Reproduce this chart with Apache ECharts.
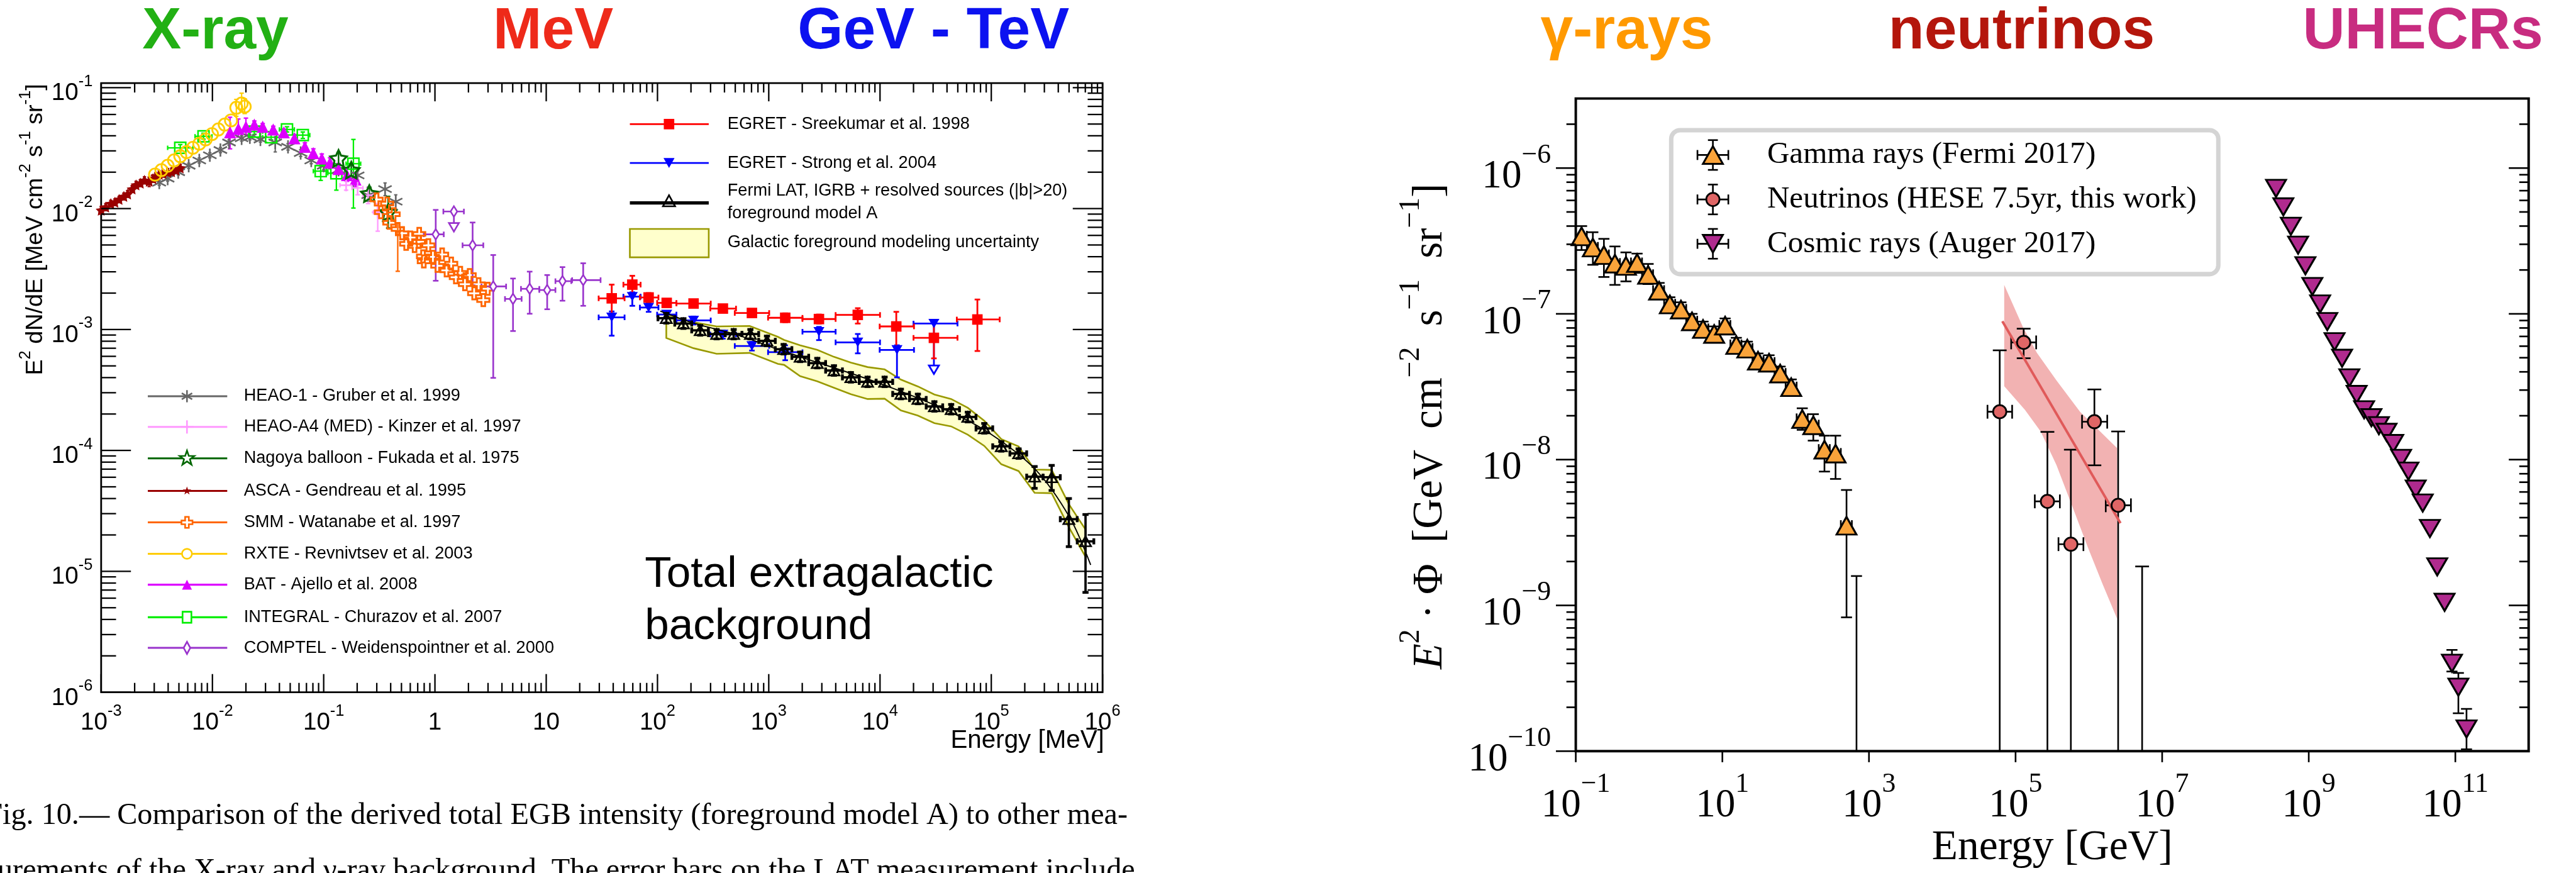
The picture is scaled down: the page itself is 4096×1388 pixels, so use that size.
<!DOCTYPE html>
<html>
<head>
<meta charset="utf-8">
<title>Extragalactic background and multi-messenger spectra</title>
<script src="https://cdn.jsdelivr.net/npm/echarts@6.0.0/dist/echarts.min.js"></script>
<style>
html,body{margin:0;padding:0;background:#ffffff;}
#chart{width:4096px;height:1388px;}
</style>
</head>
<body>
<div id="chart"></div>
<script>
// ================= LEFT PANEL DATA =================
// Energy [MeV], E^2 dN/dE [MeV cm^-2 s^-1 sr^-1]
// [E, value, lowErr, highErr]
const ascaPts = [
  [1.0e-3,9.7e-3,9.0e-3,1.04e-2],[1.1e-3,1.03e-2,9.6e-3,1.1e-2],[1.22e-3,1.10e-2,1.03e-2,1.17e-2],
  [1.33e-3,1.13e-2,1.06e-2,1.2e-2],[1.45e-3,1.19e-2,1.12e-2,1.26e-2],[1.6e-3,1.26e-2,1.18e-2,1.34e-2],
  [1.73e-3,1.32e-2,1.24e-2,1.41e-2],[1.9e-3,1.45e-2,1.36e-2,1.55e-2],[2.06e-3,1.57e-2,1.47e-2,1.68e-2],
  [2.25e-3,1.62e-2,1.52e-2,1.73e-2],[2.45e-3,1.71e-2,1.6e-2,1.83e-2],[2.7e-3,1.68e-2,1.52e-2,1.82e-2],
  [2.92e-3,1.77e-2,1.65e-2,1.9e-2],[3.1e-3,1.85e-2,1.73e-2,1.98e-2],[3.33e-3,1.92e-2,1.8e-2,2.05e-2],
  [3.6e-3,1.95e-2,1.82e-2,2.08e-2],[3.96e-3,2.0e-2,1.87e-2,2.14e-2],[4.3e-3,2.02e-2,1.88e-2,2.16e-2],
  [4.72e-3,2.08e-2,1.95e-2,2.22e-2],[5.14e-3,2.17e-2,2.03e-2,2.32e-2]
];
const heao1Pts = [
  [3.33e-3,1.64e-2,1.56e-2,1.72e-2],[3.96e-3,1.77e-2,1.69e-2,1.86e-2],[4.93e-3,2.0e-2,1.9e-2,2.1e-2],
  [6.12e-3,2.26e-2,2.15e-2,2.37e-2],[7.62e-3,2.5e-2,2.38e-2,2.62e-2],[9.48e-3,2.76e-2,2.63e-2,2.9e-2],
  [1.18e-2,3.05e-2,2.9e-2,3.2e-2],[1.41e-2,3.52e-2,3.35e-2,3.7e-2],[1.83e-2,3.81e-2,3.62e-2,4.0e-2],
  [2.17e-2,3.89e-2,3.7e-2,4.08e-2],[2.7e-2,3.73e-2,3.55e-2,3.92e-2],[3.67e-2,3.52e-2,2.94e-2,3.9e-2],
  [4.78e-2,3.24e-2,3.05e-2,3.44e-2],[6.21e-2,2.88e-2,2.7e-2,3.06e-2],[7.73e-2,2.5e-2,2.35e-2,2.66e-2],
  [0.100,2.26e-2,2.1e-2,2.42e-2],[0.136,2.09e-2,1.93e-2,2.26e-2],[0.202,1.88e-2,1.72e-2,2.05e-2],
  [0.251,1.29e-2,1.15e-2,1.44e-2],[0.356,1.45e-2,1.28e-2,1.63e-2],[0.444,1.14e-2,0.99e-2,1.3e-2]
];
const rxtePts = [
  [3.05e-3,1.91e-2,null,null],[3.48e-3,2.08e-2,null,null],[3.96e-3,2.26e-2,null,null],[4.52e-3,2.5e-2,null,null],
  [5.14e-3,2.71e-2,null,null],[5.86e-3,2.93e-2,null,null],[6.68e-3,3.18e-2,null,null],[7.62e-3,3.44e-2,null,null],
  [8.69e-3,3.73e-2,null,null],[9.91e-3,4.13e-2,null,null],[1.13e-2,4.51e-2,null,null],[1.29e-2,4.95e-2,null,null],
  [1.47e-2,5.36e-2,null,null],[1.64e-2,6.82e-2,5.8e-2,8.0e-2],[1.83e-2,7.39e-2,6.4e-2,9.0e-2],[1.95e-2,6.97e-2,6.1e-2,8.1e-2]
];
// [E, value, Elow, Ehigh, lowErr, highErr]
const integralPts = [
  [5.14e-3,3.18e-2,3.96e-3,6.68e-3,3.0e-2,3.38e-2],[8.32e-3,3.96e-2,6.98e-3,9.91e-3,3.75e-2,4.2e-2],
  [2.38e-2,4.33e-2,2.0e-2,2.83e-2,4.1e-2,4.55e-2],[3.37e-2,3.89e-2,2.83e-2,4.0e-2,3.7e-2,4.1e-2],
  [4.68e-2,4.51e-2,4.0e-2,5.45e-2,4.3e-2,4.75e-2],[6.49e-2,4.05e-2,5.45e-2,7.5e-2,3.8e-2,4.3e-2],
  [9.4e-2,2.04e-2,8.07e-2,0.109,1.71e-2,2.26e-2],[0.130,1.96e-2,0.109,0.154,1.42e-2,2.35e-2],
  [0.185,2.35e-2,0.159,0.215,1.01e-2,3.73e-2]
];
const batPts = [
  [1.44e-2,4.27e-2,3.12e-2,5.69e-2],[1.71e-2,4.57e-2,3.9e-2,5.5e-2],[2.0e-2,4.75e-2,4.1e-2,5.6e-2],
  [2.38e-2,4.95e-2,4.6e-2,5.3e-2],[2.83e-2,4.75e-2,4.45e-2,5.05e-2],[3.52e-2,4.51e-2,4.25e-2,4.8e-2],
  [4.38e-2,4.27e-2,4.0e-2,4.55e-2],[5.45e-2,3.81e-2,3.55e-2,4.1e-2],[6.78e-2,3.24e-2,3.0e-2,3.5e-2],
  [8.07e-2,2.88e-2,2.65e-2,3.12e-2],[9.62e-2,2.6e-2,2.38e-2,2.83e-2],[0.114,2.4e-2,2.18e-2,2.63e-2],
  [0.136,2.13e-2,1.92e-2,2.36e-2],[0.162,1.89e-2,1.68e-2,2.12e-2],[0.193,1.74e-2,1.52e-2,1.98e-2]
];
const heaoA4Pts = [
  [0.159,1.56e-2,0.14,0.18,1.42e-2,1.7e-2],[0.202,1.48e-2,0.18,0.225,1.3e-2,1.66e-2],
  [0.251,1.29e-2,0.225,0.28,1.1e-2,1.5e-2],[0.306,9.33e-3,0.28,0.335,6.5e-3,1.10e-2]
];
const nagoyaPts = [
  [0.136,2.6e-2,2.3e-2,2.9e-2],[0.177,2.08e-2,1.85e-2,2.3e-2],[0.257,1.33e-2,1.2e-2,1.5e-2],[0.380,9.33e-3,6.9e-3,1.26e-2]
];
const smmPts = [
  [0.299,1.19e-2,null,null],[0.327,9.33e-3,null,null],[0.372,1.10e-2,null,null],[0.389,7.64e-3,null,null],
  [0.425,8.97e-3,null,null],[0.463,6.77e-3,3.03e-3,7.6e-3],[0.506,6.25e-3,null,null],[0.551,5.11e-3,null,null],
  [0.601,5.76e-3,null,null],[0.656,4.91e-3,null,null],[0.716,5.32e-3,null,null],[0.781,4.02e-3,null,null],
  [0.722,6.17e-3,null,null],[0.794,3.66e-3,null,null],[0.873,4.97e-3,null,null],[0.959,3.99e-3,null,null],
  [1.05,3.36e-3,null,null],[1.16,4.17e-3,null,null],[1.27,3.08e-3,null,null],[1.40,3.51e-3,null,null],
  [1.54,2.70e-3,null,null],[1.69,2.94e-3,null,null],[1.86,2.37e-3,null,null],[2.05,2.82e-3,null,null],
  [2.25,1.99e-3,null,null],[2.47,2.37e-3,null,null],[2.72,1.75e-3,null,null],[2.99,2.17e-3,null,null]
];
// [E, value, Elow, Ehigh, lowErr, highErr, upperLimit]
const comptelPts = [
  [1.016,6.12e-3,0.794,1.20,2.53e-3,9.75e-3,0],[1.48,9.46e-3,1.19,1.82,6.46e-3,null,1],
  [2.18,4.97e-3,1.77,2.72,2.32e-3,7.67e-3,0],[3.34,2.27e-3,2.62,4.36,3.98e-4,4.13e-3,0],
  [5.03,1.79e-3,4.26,6.01,9.71e-4,2.64e-3,0],[7.10,2.17e-3,5.93,8.67,1.35e-3,3.01e-3,0],
  [10.2,2.12e-3,8.67,12.1,1.47e-3,2.82e-3,0],[14.0,2.51e-3,12.1,16.8,1.73e-3,3.28e-3,0],
  [21.5,2.56e-3,17.1,30.8,1.57e-3,3.53e-3,0]
];
const egretSreekumarPts = [
  [38.8,1.81e-3,29.6,50.6,1.29e-3,2.35e-3,0],[59.4,2.35e-3,49.4,70.5,1.99e-3,2.78e-3,0],
  [83.2,1.84e-3,69.5,102,1.68e-3,2.0e-3,0],[121,1.66e-3,99.3,148,1.54e-3,1.78e-3,0],
  [211,1.64e-3,148,301,1.53e-3,1.75e-3,0],[387,1.49e-3,298,508,1.39e-3,1.6e-3,0],
  [706,1.37e-3,495,1009,1.27e-3,1.47e-3,0],[1406,1.25e-3,986,2009,1.15e-3,1.36e-3,0],
  [2825,1.22e-3,2009,3990,1.12e-3,1.33e-3,0],[6310,1.32e-3,3990,1.0e4,1.12e-3,1.50e-3,0],
  [1.40e4,1.06e-3,9930,2.02e4,7.23e-4,1.40e-3,0],[3.05e4,8.53e-4,2.0e4,4.97e4,5.77e-4,1.17e-3,0],
  [7.50e4,1.21e-3,4.90e4,1.19e5,6.64e-4,1.77e-3,0]
];
const egretStrongPts = [
  [38.8,1.26e-3,29.6,50.6,8.89e-4,1.41e-3,0],[59.4,1.87e-3,49.4,70.5,1.57e-3,2.03e-3,0],
  [83.2,1.52e-3,69.5,102,1.4e-3,1.64e-3,0],[121,1.33e-3,99.3,148,1.24e-3,1.42e-3,0],
  [211,1.19e-3,148,301,1.1e-3,1.28e-3,0],[387,9.1e-4,298,508,8.4e-4,9.8e-4,0],
  [706,7.31e-4,495,1009,6.7e-4,7.9e-4,0],[1406,6.49e-4,986,2009,5.57e-4,7.4e-4,0],
  [2825,9.59e-4,2009,3990,8.17e-4,1.05e-3,0],[6310,7.83e-4,3990,1.0e4,6.35e-4,9.18e-4,0],
  [1.42e4,6.78e-4,9930,2.02e4,4.02e-4,7.4e-4,0],[3.05e4,1.12e-3,2.0e4,4.97e4,4.29e-4,null,1]
];
// Fermi LAT total EGB, foreground model A: [E, value, lowErr, highErr]
const fermiPts = [
  [120,1.24e-3,1.13e-3,1.36e-3],[171,1.12e-3,1.02e-3,1.23e-3],[242,9.84e-4,8.97e-4,1.08e-3],
  [340,9.17e-4,8.36e-4,1.0e-3],[484,9.17e-4,8.36e-4,1.0e-3],[684,9.17e-4,8.36e-4,1.0e-3],
  [964,8.05e-4,7.34e-4,8.82e-4],[1361,6.87e-4,6.27e-4,7.53e-4],[1914,5.94e-4,5.42e-4,6.51e-4],
  [2730,5.27e-4,4.81e-4,5.78e-4],[3855,4.58e-4,4.18e-4,5.02e-4],[5470,4.02e-4,3.67e-4,4.41e-4],
  [7730,3.69e-4,3.37e-4,4.04e-4],[1.10e4,3.69e-4,3.37e-4,4.04e-4],[1.54e4,2.93e-4,2.67e-4,3.21e-4],
  [2.19e4,2.66e-4,2.43e-4,2.92e-4],[3.08e4,2.31e-4,2.11e-4,2.53e-4],[4.36e4,2.19e-4,2.0e-4,2.4e-4],
  [6.15e4,1.89e-4,1.72e-4,2.07e-4],[8.65e4,1.52e-4,1.39e-4,1.67e-4],[1.23e5,1.08e-4,9.85e-5,1.18e-4],
  [1.76e5,9.44e-5,8.6e-5,1.03e-4],[2.45e5,6.06e-5,4.86e-5,7.36e-5],[3.49e5,6.0e-5,4.67e-5,7.52e-5],
  [4.98e5,2.70e-5,1.60e-5,4.0e-5],[7.03e5,1.77e-5,6.7e-6,2.95e-5]
];
const fermiBinEdges = [101,143,203,287,406,575,812,1145,1614,2286,3244,4592,6503,9220,1.30e4,1.84e4,2.6e4,
  3.66e4,5.18e4,7.29e4,1.03e5,1.47e5,2.08e5,2.92e5,4.17e5,5.92e5,8.35e5];
const fermiModel = [[106,1.42e-3],[211,1.13e-3],[545,8.9e-4],[1208,6.85e-4],[2208,5.70e-4],[9120,3.69e-4],
  [3.78e4,2.19e-4],[9.73e4,1.38e-4],[2.51e5,6.90e-5],[5.09e5,2.77e-5],[7.82e5,1.13e-5]];
// Galactic foreground modelling uncertainty band: [E, lower, upper]
const fermiBand = [
  [120,8.5e-4,1.30e-3],[211,7.0e-4,1.15e-3],[340,6.3e-4,1.06e-3],[674,6.4e-4,1.07e-3],[1208,5.2e-4,8.7e-4],
  [1374,5.1e-4,8.2e-4],[1914,4.11e-4,7.40e-4],[2730,3.73e-4,6.78e-4],[3855,3.30e-4,5.94e-4],[5470,2.92e-4,5.33e-4],
  [7730,2.66e-4,4.89e-4],[1.10e4,2.68e-4,4.68e-4],[1.54e4,2.14e-4,3.85e-4],[2.19e4,1.94e-4,3.38e-4],
  [3.08e4,1.68e-4,2.90e-4],[4.36e4,1.58e-4,2.66e-4],[6.15e4,1.35e-4,2.25e-4],[8.65e4,1.09e-4,1.76e-4],
  [1.23e5,7.69e-5,1.24e-4],[1.76e5,6.75e-5,1.08e-4],[2.45e5,4.46e-5,6.95e-5],[3.49e5,4.43e-5,6.90e-5],
  [4.98e5,2.32e-5,3.59e-5],[7.03e5,1.32e-5,2.22e-5]
];

// ================= RIGHT PANEL DATA =================
// Energy [GeV], E^2 Phi [GeV cm^-2 s^-1 sr^-1]
// Gamma rays (Fermi 2017): [E, value, lowErr, highErr]  (value null: only upper error drawn)
const gammaPts = [
  [0.120,3.40e-7,2.74e-7,4.0e-7],[0.171,2.85e-7,2.17e-7,3.63e-7],[0.242,2.53e-7,1.79e-7,3.27e-7],
  [0.342,2.21e-7,1.58e-7,2.9e-7],[0.484,2.13e-7,1.67e-7,2.64e-7],[0.686,2.23e-7,1.91e-7,2.59e-7],
  [0.971,1.85e-7,1.6e-7,2.2e-7],[1.37,1.44e-7,1.27e-7,1.63e-7],[1.92,1.16e-7,1.03e-7,1.3e-7],
  [2.72,1.07e-7,9.5e-8,1.2e-7],[3.85,8.88e-8,7.9e-8,1.0e-7],[5.45,7.87e-8,7.0e-8,8.85e-8],
  [7.73,7.28e-8,6.45e-8,8.2e-8],[10.9,8.30e-8,7.4e-8,9.3e-8],[15.5,6.11e-8,5.45e-8,6.85e-8],
  [21.9,5.77e-8,5.15e-8,6.45e-8],[30.6,4.77e-8,4.25e-8,5.35e-8],[43.3,4.62e-8,4.1e-8,5.2e-8],
  [61.4,3.89e-8,3.45e-8,4.35e-8],[86.9,3.14e-8,2.8e-8,3.55e-8],[123,1.90e-8,1.60e-8,2.25e-8],
  [174,1.72e-8,1.35e-8,2.05e-8],[247,1.17e-8,8.28e-9,1.46e-8],[350,1.10e-8,7.37e-9,1.46e-8],
  [494,3.52e-9,8.28e-10,6.19e-9],[676,null,0,1.59e-9]
];
const gammaBinEdges = [0.100,0.1415,0.2001,0.2831,0.4005,0.5666,0.8016,1.134,1.604,2.270,3.211,4.543,6.427,
  9.092,12.86,18.20,25.75,36.42,51.53,72.90,103.1,145.9,206.4,292.0,413.1,584.4,826.8];
// Neutrinos (HESE 7.5yr): [E, value, Elow, Ehigh, lowErr(0 = down to axis), highErr]
const nuPts = [
  [6.08e4,2.13e-8,4.14e4,8.98e4,0,5.62e-8],[1.29e5,6.37e-8,8.71e4,1.91e5,4.96e-8,7.91e-8],
  [2.72e5,5.17e-9,1.83e5,4.02e5,0,1.55e-8],[5.68e5,2.63e-9,3.85e5,8.43e5,0,1.17e-8],
  [1.19e6,1.82e-8,8.07e5,1.78e6,9.14e-9,3.03e-8],[2.51e6,4.86e-9,1.70e6,3.75e6,0,1.56e-8],
  [5.33e6,null,null,null,0,1.85e-9]
];
const nuFit = [[6.6e4,8.9e-8],[2.7e6,3.67e-9]];
const nuBandUpper = [[7.0e4,1.58e-7],[1.26e5,8.11e-8],[1.95e5,5.42e-8],[3.61e5,3.50e-8],[7.59e5,2.13e-8],[2.43e6,1.20e-8]];
const nuBandLower = [[7.0e4,3.19e-8],[1.34e5,2.20e-8],[2.20e5,1.56e-8],[3.61e5,9.18e-9],[5.93e5,4.79e-9],
  [9.73e5,2.49e-9],[1.55e6,1.39e-9],[2.43e6,8.09e-10]];
// Cosmic rays (Auger 2017): [E, value, lowErr, highErr]
const crPts = [
  [3.58e8,7.26e-7,null,null],[4.50e8,5.42e-7,null,null],[5.70e8,3.99e-7,null,null],[7.16e8,2.96e-7,null,null],
  [9.00e8,2.14e-7,null,null],[1.12e9,1.54e-7,null,null],[1.43e9,1.17e-7,null,null],[1.79e9,8.85e-8,null,null],
  [2.25e9,6.44e-8,null,null],[2.85e9,4.96e-8,null,null],[3.58e9,3.64e-8,null,null],[4.50e9,2.80e-8,null,null],
  [5.69e9,2.20e-8,null,null],[7.16e9,1.94e-8,null,null],[9.06e9,1.71e-8,null,null],[1.15e10,1.54e-8,null,null],
  [1.42e10,1.29e-8,null,null],[1.82e10,1.02e-8,null,null],[2.29e10,8.34e-9,null,null],[2.88e10,6.28e-9,null,null],
  [3.59e10,5.04e-9,null,null],[4.50e10,3.37e-9,null,null],[5.66e10,1.84e-9,null,null],[7.13e10,1.05e-9,null,null],
  [8.99e10,4.01e-10,3.52e-10,4.95e-10],[1.10e11,2.75e-10,1.82e-10,3.44e-10],[1.42e11,1.42e-10,1.03e-10,1.95e-10]
];

// ================= AXES: tick values & labels =================
const minorMult = [2,3,4,5,6,7,8,9];
const leftXDecades = [-3,-2,-1,0,1,2,3,4,5,6];
const leftYDecades = [-6,-5,-4,-3,-2,-1];
const rightXMajor = [-1,1,3,5,7,9,11];
const rightYDecades = [-10,-9,-8,-7,-6];
const leftXLabels = [[1e-3,'10','-3'],[1e-2,'10','-2'],[1e-1,'10','-1'],[1,'1',''],[10,'10',''],[1e2,'10','2'],
  [1e3,'10','3'],[1e4,'10','4'],[1e5,'10','5'],[1e6,'10','6']];
const leftYLabels = [[1e-6,'10','-6'],[1e-5,'10','-5'],[1e-4,'10','-4'],[1e-3,'10','-3'],[1e-2,'10','-2'],[1e-1,'10','-1']];
const rightXLabels = [[1e-1,'10','\u22121'],[1e1,'10','1'],[1e3,'10','3'],[1e5,'10','5'],[1e7,'10','7'],[1e9,'10','9'],[1e11,'10','11']];
const rightYLabels = [[1e-10,'10','\u221210'],[1e-9,'10','\u22129'],[1e-8,'10','\u22128'],[1e-7,'10','\u22127'],[1e-6,'10','\u22126']];

const titles = [['X-ray',258,'#22b014'],['MeV',894,'#ee2a1a'],['GeV - TeV',1446,'#0c12f0'],
  ['\u03b3-rays',2793,'#ff9900'],['neutrinos',3424,'#b4160c'],['UHECRs',4175,'#c82c80']];
const legendTopTexts = ['EGRET - Sreekumar et al. 1998','EGRET - Strong et al. 2004',
  'Fermi LAT, IGRB + resolved sources (|b|>20)','foreground model A','Galactic foreground modeling uncertainty'];
const legendBottomTexts = ['HEAO-1 - Gruber et al. 1999','HEAO-A4 (MED) - Kinzer et al. 1997',
  'Nagoya balloon - Fukada et al. 1975','ASCA - Gendreau et al. 1995','SMM - Watanabe et al. 1997',
  'RXTE - Revnivtsev et al. 2003','BAT - Ajello et al. 2008','INTEGRAL - Churazov et al. 2007',
  'COMPTEL - Weidenspointner et al. 2000'];
const legendRightTexts = ['Gamma rays (Fermi 2017)','Neutrinos (HESE 7.5yr, this work)','Cosmic rays (Auger 2017)'];
const captionLines = ['Fig. 10.\u2014 Comparison of the derived total EGB intensity (foreground model A) to other mea-',
  'surements of the X-ray and \u03b3-ray background. The error bars on the LAT measurement include'];

// ================= LAYOUT =================
const S = 0.877;
const P = v => v * S;
const SANS = '"Liberation Sans", Arial, sans-serif';
const SERIF = '"Liberation Serif", "Times New Roman", serif';
const LG = {left:P(183.4), top:P(150.7), width:P(1999-183.4), height:P(1255-150.7)};
const RG = {left:P(2857), top:P(178.6), width:P(4584.6-2857), height:P(1361.8-178.6)};

const SYM = {
  star: 'path://M0,-10L2.94,-4.05L9.51,-3.09L4.76,1.55L5.88,8.09L0,5L-5.88,8.09L-4.76,1.55L-9.51,-3.09L-2.94,-4.05Z',
  asterisk: 'path://M0,-10L0,10M-8.66,-5L8.66,5M-8.66,5L8.66,-5',
  plus: 'path://M0,-10L0,10M-10,0L10,0',
  openCross: 'path://M-3,-10L3,-10L3,-3L10,-3L10,3L3,3L3,10L-3,10L-3,3L-10,3L-10,-3L-3,-3Z'
};

// -------- helpers --------
function errSeries(rows, gi, o) {
  return {
    type:'custom', xAxisIndex:gi, yAxisIndex:gi, silent:true, clip:false, z:o.z || 2,
    data: rows.map(r => [r[0], r[1] != null ? r[1] : r[5]]),
    encode:{x:0, y:1},
    renderItem: function (params, api) {
      const r = rows[params.dataIndex];
      const cs = params.coordSys;
      const yv = r[1] != null ? r[1] : r[5];
      const c = api.coord([r[0], yv]);
      const ch = [];
      const cap = o.cap || 0, capw = o.capw || o.lw;
      const L = (x1, y1, x2, y2, w) => ch.push({type:'line', shape:{x1:x1, y1:y1, x2:x2, y2:y2},
        style:{stroke:o.color, lineWidth:w || o.lw, lineCap:'butt'}});
      if (r[2] != null && r[3] != null) {
        const a = api.coord([r[2], yv])[0], b = api.coord([r[3], yv])[0];
        L(a, c[1], b, c[1]);
        if (cap) { const hc = (o.xcap || cap) / 2; L(a, c[1] - hc, a, c[1] + hc, capw); L(b, c[1] - hc, b, c[1] + hc, capw); }
      }
      if (r[4] != null || r[5] != null) {
        const top = r[5] != null ? api.coord([r[0], r[5]])[1] : c[1];
        let bot = c[1];
        if (r[4] === 0) bot = cs.y + cs.height;
        else if (r[4] != null) bot = api.coord([r[0], r[4]])[1];
        L(c[0], top, c[0], bot);
        if (cap) {
          if (r[5] != null) L(c[0] - cap / 2, top, c[0] + cap / 2, top, capw);
          if (r[4] != null && r[4] !== 0 && !r[6]) L(c[0] - cap / 2, bot, c[0] + cap / 2, bot, capw);
        }
        if (r[6]) {
          const w = o.arrow || 6, h = w * 1.7;
          ch.push({type:'polygon', shape:{points:[[c[0] - w, bot - h], [c[0] + w, bot - h], [c[0], bot]]},
            style:{fill:'#ffffff', stroke:o.color, lineWidth:o.lw}});
        }
      }
      return {type:'group', children:ch};
    }
  };
}
function markerSeries(pts, gi, o) {
  return {
    type:'scatter', xAxisIndex:gi, yAxisIndex:gi, silent:true, z:o.z || 3,
    data: pts.filter(r => r[1] != null).map(r => [r[0], r[1]]),
    symbol:o.symbol, symbolSize:o.size, symbolRotate:o.rotate || 0,
    itemStyle:{color:o.fill, borderColor:o.stroke || o.fill, borderWidth:o.bw || 0, opacity:1},
    emphasis:{disabled:true}
  };
}
function tickSeries(gi, axis, vals, ref, len, sides, lw) {
  return {
    type:'custom', xAxisIndex:gi, yAxisIndex:gi, silent:true, clip:false, z:6,
    data: vals.map(v => axis === 'x' ? [v, ref] : [ref, v]),
    encode:{x:0, y:1},
    renderItem: function (params, api) {
      const cs = params.coordSys;
      const p = api.coord([api.value(0), api.value(1)]);
      const ch = [];
      sides.forEach(s => {
        let sh;
        if (s === 'bottom-in') sh = {x1:p[0], y1:cs.y + cs.height, x2:p[0], y2:cs.y + cs.height - len};
        else if (s === 'bottom-out') sh = {x1:p[0], y1:cs.y + cs.height, x2:p[0], y2:cs.y + cs.height + len};
        else if (s === 'top-in') sh = {x1:p[0], y1:cs.y, x2:p[0], y2:cs.y + len};
        else if (s === 'left-in') sh = {x1:cs.x, y1:p[1], x2:cs.x + len, y2:p[1]};
        else if (s === 'left-out') sh = {x1:cs.x, y1:p[1], x2:cs.x - len, y2:p[1]};
        else if (s === 'right-in') sh = {x1:cs.x + cs.width, y1:p[1], x2:cs.x + cs.width - len, y2:p[1]};
        ch.push({type:'line', shape:sh, style:{stroke:'#000', lineWidth:lw, lineCap:'butt'}});
      });
      return {type:'group', children:ch};
    }
  };
}
function labelSeries(gi, axis, labels, ref, o) {
  return {
    type:'custom', xAxisIndex:gi, yAxisIndex:gi, silent:true, clip:false, z:6,
    data: labels.map(l => axis === 'x' ? [l[0], ref] : [ref, l[0]]),
    encode:{x:0, y:1},
    renderItem: function (params, api) {
      const l = labels[params.dataIndex];
      const p = api.coord([api.value(0), api.value(1)]);
      const txt = '{b|' + l[1] + '}' + (l[2] ? '{s|' + l[2] + '}' : '');
      return {type:'text', x: axis === 'x' ? p[0] : o.pos, y: axis === 'x' ? o.pos : p[1] + (o.dy || 0),
        style:{text:txt, rich:o.rich, align: axis === 'x' ? 'center' : 'right', verticalAlign:'middle', fill:'#000'}};
    }
  };
}
function polySeries(gi, upper, lower, style, z) {
  return {
    type:'custom', xAxisIndex:gi, yAxisIndex:gi, silent:true, clip:true, z:z,
    data: upper.map(r => [r[0], r[1]]), encode:{x:0, y:1},
    renderItem: function (params, api) {
      if (params.dataIndex !== 0) return null;
      const pts = upper.map(r => api.coord([r[0], r[1]]))
        .concat(lower.slice().reverse().map(r => api.coord([r[0], r[1]])));
      return {type:'polygon', shape:{points:pts}, style:style};
    }
  };
}
function decadeTicks(decs) { return decs.map(d => Math.pow(10, d)); }
function minorTicks(decs, maxV) {
  const out = [];
  decs.forEach(d => minorMult.forEach(m => { const v = m * Math.pow(10, d); if (v < maxV) out.push(v); }));
  return out;
}
function starPts(cx, cy, R, r) {
  const pts = [];
  for (let i = 0; i < 10; i++) { const a = -Math.PI / 2 + i * Math.PI / 5, rad = i % 2 === 0 ? R : r;
    pts.push([cx + rad * Math.cos(a), cy + rad * Math.sin(a)]); }
  return pts;
}
function gMarker(kind, cx, cy, w, h, color, lw) {
  h = h || w;
  const line = (x1, y1, x2, y2) => ({type:'line', shape:{x1:x1, y1:y1, x2:x2, y2:y2}, style:{stroke:color, lineWidth:lw}});
  switch (kind) {
    case 'rect': return {type:'rect', shape:{x:cx - w / 2, y:cy - h / 2, width:w, height:h}, style:{fill:color}};
    case 'openRect': return {type:'rect', shape:{x:cx - w / 2, y:cy - h / 2, width:w, height:h}, style:{fill:'none', stroke:color, lineWidth:lw}};
    case 'tri': return {type:'polygon', shape:{points:[[cx, cy - h / 2], [cx - w / 2, cy + h / 2], [cx + w / 2, cy + h / 2]]}, style:{fill:color}};
    case 'triDown': return {type:'polygon', shape:{points:[[cx - w / 2, cy - h / 2], [cx + w / 2, cy - h / 2], [cx, cy + h / 2]]}, style:{fill:color}};
    case 'openTri': return {type:'polygon', shape:{points:[[cx, cy - h / 2], [cx - w / 2, cy + h / 2], [cx + w / 2, cy + h / 2]]}, style:{fill:'none', stroke:color, lineWidth:lw}};
    case 'openCircle': return {type:'circle', shape:{cx:cx, cy:cy, r:w / 2}, style:{fill:'none', stroke:color, lineWidth:lw}};
    case 'diamond': return {type:'polygon', shape:{points:[[cx, cy - h / 2], [cx + w / 2, cy], [cx, cy + h / 2], [cx - w / 2, cy]]}, style:{fill:'none', stroke:color, lineWidth:lw}};
    case 'star': return {type:'polygon', shape:{points:starPts(cx, cy, w / 2, w / 5)}, style:{fill:color}};
    case 'openStar': return {type:'polygon', shape:{points:starPts(cx, cy, w / 2, w / 5)}, style:{fill:'none', stroke:color, lineWidth:lw}};
    case 'asterisk': return {type:'group', children:[line(cx, cy - h / 2, cx, cy + h / 2),
      line(cx - w * 0.43, cy - h / 4, cx + w * 0.43, cy + h / 4), line(cx - w * 0.43, cy + h / 4, cx + w * 0.43, cy - h / 4)]};
    case 'plus': return {type:'group', children:[line(cx, cy - h / 2, cx, cy + h / 2), line(cx - w / 2, cy, cx + w / 2, cy)]};
    case 'openCross': { const a = w / 2, b = w / 6;
      return {type:'polygon', shape:{points:[[cx - b, cy - a], [cx + b, cy - a], [cx + b, cy - b], [cx + a, cy - b], [cx + a, cy + b], [cx + b, cy + b],
        [cx + b, cy + a], [cx - b, cy + a], [cx - b, cy + b], [cx - a, cy + b], [cx - a, cy - b], [cx - b, cy - b]]}, style:{fill:'none', stroke:color, lineWidth:lw}}; }
  }
  return null;
}

// -------- standardized error rows: [x, y, xlo, xhi, ylo, yhi, upperLimit] --------
const rowsYOnly = pts => pts.map(r => [r[0], r[1], null, null, r[2], r[3], 0]);
const rowsXY = pts => pts.map(r => [r[0], r[1], r[2], r[3], r[4], r[5], r[6] || 0]);
const fermiRows = fermiPts.map((r, i) => [r[0], r[1], fermiBinEdges[i], fermiBinEdges[i + 1], r[2], r[3], 0]);
const gammaRows = gammaPts.map((r, i) => [r[0], r[1], r[1] != null ? gammaBinEdges[i] : null, r[1] != null ? gammaBinEdges[i + 1] : null, r[2], r[3], 0]);
const nuRows = nuPts.map(r => [r[0], r[1], r[2], r[3], r[4], r[5], 0]);
const crRows = crPts.filter(r => r[2] != null).map(r => [r[0], r[1], null, null, r[2], r[3], 0]);

// -------- colours --------
const C = {asca:'#990000', heao1:'#666666', rxte:'#ffcc00', integral:'#00ee00', bat:'#dd00ff', heaoA4:'#ff99ff',
  nagoya:'#006600', smm:'#ff6600', comptel:'#9933cc', egretS:'#ff0000', egretB:'#0000ff', fermi:'#000000',
  band:'#ffffcc', bandEdge:'#999900', gamma:'#f9a33a', nu:'#e06666', nuBand:'#f2b2b2', nuLine:'#e05a5a', cr:'#b02a8e'};

// -------- series --------
const series = [
  polySeries(0, fermiBand.map(r => [r[0], r[2]]), fermiBand.map(r => [r[0], r[1]]), {fill:C.band, stroke:C.bandEdge, lineWidth:P(3)}, 1),
  polySeries(1, nuBandUpper, nuBandLower, {fill:C.nuBand, stroke:null}, 1),
  // left: error bars
  errSeries(rowsYOnly(ascaPts), 0, {color:C.asca, lw:P(2.4), cap:P(6)}),
  errSeries(rowsYOnly(heao1Pts), 0, {color:C.heao1, lw:P(2.4), cap:P(6)}),
  errSeries(rowsYOnly(rxtePts.filter(r => r[2] != null)), 0, {color:C.rxte, lw:P(2.4), cap:P(8)}),
  errSeries(rowsXY(integralPts), 0, {color:C.integral, lw:P(2.6), cap:P(8)}),
  errSeries(rowsYOnly(batPts), 0, {color:C.bat, lw:P(2.6), cap:P(8)}),
  errSeries(rowsXY(heaoA4Pts), 0, {color:C.heaoA4, lw:P(2.6), cap:P(8)}),
  errSeries(rowsYOnly(nagoyaPts), 0, {color:C.nagoya, lw:P(2.8), cap:P(8)}),
  errSeries(rowsYOnly(smmPts.filter(r => r[2] != null)), 0, {color:C.smm, lw:P(2.6), cap:P(8)}),
  errSeries(rowsXY(comptelPts), 0, {color:C.comptel, lw:P(3), cap:P(10), arrow:P(9)}),
  errSeries(rowsXY(egretStrongPts), 0, {color:C.egretB, lw:P(3.2), cap:P(10), arrow:P(9)}),
  errSeries(rowsXY(egretSreekumarPts), 0, {color:C.egretS, lw:P(3.2), cap:P(10)}),
  errSeries(fermiRows, 0, {color:C.fermi, lw:P(4.2), cap:P(11), capw:P(5), z:4}),
  // left: markers
  markerSeries(heao1Pts, 0, {symbol:SYM.asterisk, size:P(24), fill:'rgba(0,0,0,0)', stroke:C.heao1, bw:P(3)}),
  markerSeries(ascaPts, 0, {symbol:SYM.star, size:P(20), fill:C.asca}),
  markerSeries(integralPts, 0, {symbol:'rect', size:P(20), fill:'rgba(0,0,0,0)', stroke:C.integral, bw:P(2.8)}),
  markerSeries(rxtePts, 0, {symbol:'circle', size:P(22), fill:'rgba(0,0,0,0)', stroke:C.rxte, bw:P(3.2)}),
  markerSeries(batPts, 0, {symbol:'triangle', size:P(22), fill:C.bat}),
  markerSeries(heaoA4Pts, 0, {symbol:SYM.plus, size:P(22), fill:'rgba(0,0,0,0)', stroke:C.heaoA4, bw:P(2.6)}),
  markerSeries(nagoyaPts, 0, {symbol:SYM.star, size:P(30), fill:'rgba(0,0,0,0)', stroke:C.nagoya, bw:P(3.5)}),
  markerSeries(smmPts, 0, {symbol:SYM.openCross, size:P(22), fill:'rgba(0,0,0,0)', stroke:C.smm, bw:P(3.4)}),
  markerSeries(comptelPts, 0, {symbol:'diamond', size:[P(12), P(19)], fill:'#ffffff', stroke:C.comptel, bw:P(3)}),
  markerSeries(egretStrongPts, 0, {symbol:'triangle', size:[P(20), P(17)], rotate:180, fill:C.egretB}),
  markerSeries(egretSreekumarPts, 0, {symbol:'rect', size:P(19), fill:C.egretS}),
  markerSeries(fermiPts, 0, {symbol:'triangle', size:[P(20), P(18)], fill:'rgba(0,0,0,0)', stroke:C.fermi, bw:P(3), z:5}),
  {type:'line', xAxisIndex:0, yAxisIndex:0, data:fermiModel, smooth:0.3, symbol:'none', silent:true, z:5,
    lineStyle:{color:'#000', width:P(2.2)}},
  // right panel
  {type:'line', xAxisIndex:1, yAxisIndex:1, data:nuFit, symbol:'none', silent:true, z:2,
    lineStyle:{color:C.nuLine, width:P(4.5)}},
  errSeries(gammaRows, 1, {color:'#000', lw:P(3), cap:P(20)}),
  errSeries(nuRows, 1, {color:'#000', lw:P(3), cap:P(25)}),
  errSeries(crRows, 1, {color:'#000', lw:P(3), cap:P(20)}),
  markerSeries(gammaPts, 1, {symbol:'triangle', size:[P(36), P(32)], fill:C.gamma, stroke:'#000', bw:P(3.5), z:4}),
  markerSeries(nuPts, 1, {symbol:'circle', size:P(24), fill:C.nu, stroke:'#000', bw:P(3.2), z:4}),
  markerSeries(crPts, 1, {symbol:'triangle', size:[P(36), P(31)], rotate:180, fill:C.cr, stroke:'#000', bw:P(3.5), z:4}),
  // ticks (left panel: ROOT style, inside on all four sides)
  tickSeries(0, 'x', decadeTicks(leftXDecades), 1e-3, P(33), ['bottom-in', 'top-in'], P(2.6)),
  tickSeries(0, 'x', minorTicks([-3,-2,-1,0,1,2,3,4,5], 1e6), 1e-3, P(17), ['bottom-in', 'top-in'], P(2.6)),
  tickSeries(0, 'y', decadeTicks(leftYDecades), 1e-3, P(54), ['left-in', 'right-in'], P(2.6)),
  tickSeries(0, 'y', minorTicks([-6,-5,-4,-3,-2,-1], 0.109), 1e-3, P(27), ['left-in', 'right-in'], P(2.6)),
  // ticks (right panel)
  tickSeries(1, 'x', rightXMajor.map(d => Math.pow(10, d)), 1e-10, P(20), ['bottom-out'], P(3)),
  tickSeries(1, 'y', decadeTicks(rightYDecades), 0.1, P(36), ['left-out', 'right-in'], P(3)),
  tickSeries(1, 'y', minorTicks([-10,-9,-8,-7,-6], 3e-6), 0.1, P(17), ['left-out', 'right-in'], P(3)),
  // tick labels
  labelSeries(0, 'x', leftXLabels, 1e-6, {pos:P(1304), rich:{
    b:{fontFamily:SANS, fontSize:P(44), lineHeight:P(58), verticalAlign:'bottom', fill:'#000'},
    s:{fontFamily:SANS, fontSize:P(29), lineHeight:P(29), verticalAlign:'top', fill:'#000'}}}),
  labelSeries(0, 'y', leftYLabels, 1e-3, {pos:P(168), dy:P(4), rich:{
    b:{fontFamily:SANS, fontSize:P(44), lineHeight:P(58), verticalAlign:'bottom', fill:'#000'},
    s:{fontFamily:SANS, fontSize:P(29), lineHeight:P(29), verticalAlign:'top', fill:'#000'}}}),
  labelSeries(1, 'x', rightXLabels, 1e-10, {pos:P(1447), rich:{
    b:{fontFamily:SERIF, fontSize:P(72), lineHeight:P(100), verticalAlign:'bottom', fill:'#000'},
    s:{fontFamily:SERIF, fontSize:P(50), lineHeight:P(50), verticalAlign:'top', fill:'#000'}}}),
  labelSeries(1, 'y', rightYLabels, 0.1, {pos:P(2812), dy:P(2), rich:{
    b:{fontFamily:SERIF, fontSize:P(72), lineHeight:P(100), verticalAlign:'bottom', fill:'#000'},
    s:{fontFamily:SERIF, fontSize:P(50), lineHeight:P(50), verticalAlign:'top', fill:'#000'}}})
];

// -------- graphic (titles, axis names, legends, caption) --------
const G = [];
titles.forEach(t => G.push({type:'text', x:P(t[1]), y:P(59), z:10,
  style:{text:t[0], fill:t[2], fontFamily:SANS, fontWeight:'bold', fontSize:P(106), align:'left', verticalAlign:'middle'}}));
// left y-axis name
G.push({type:'text', x:P(59), y:P(152), rotation:Math.PI / 2, z:10, style:{
  text:'{n|E}{s|2}{n| dN/dE [MeV cm}{s|-2}{n| s}{s|-1}{n| sr}{s|-1}{n|]}', align:'right', verticalAlign:'middle',
  rich:{n:{fontFamily:SANS, fontSize:P(43), lineHeight:P(54), verticalAlign:'bottom', fill:'#000'},
        s:{fontFamily:SANS, fontSize:P(29), lineHeight:P(29), verticalAlign:'top', fill:'#000'}}}});
// left x-axis name
G.push({type:'text', x:P(2002), y:P(1343), z:10, style:{text:'Energy [MeV]', fill:'#000', fontFamily:SANS, fontSize:P(46), align:'right', verticalAlign:'middle'}});
// annotation
G.push({type:'text', x:P(1169), y:P(1042), z:10, style:{text:'Total extragalactic', fill:'#000', fontFamily:SANS, fontSize:P(79), align:'left', verticalAlign:'middle'}});
G.push({type:'text', x:P(1169), y:P(1137), z:10, style:{text:'background', fill:'#000', fontFamily:SANS, fontSize:P(79), align:'left', verticalAlign:'middle'}});
// left legend (top right)
G.push({type:'line', shape:{x1:P(1142), y1:P(225), x2:P(1285), y2:P(225)}, style:{stroke:C.egretS, lineWidth:P(3)}, z:10});
G.push(Object.assign(gMarker('rect', P(1213), P(225), P(19), P(19), C.egretS, 0), {z:11}));
G.push({type:'line', shape:{x1:P(1142), y1:P(295.5), x2:P(1285), y2:P(295.5)}, style:{stroke:C.egretB, lineWidth:P(3)}, z:10});
G.push(Object.assign(gMarker('triDown', P(1213), P(295.5), P(20), P(18), C.egretB, 0), {z:11}));
G.push({type:'line', shape:{x1:P(1142), y1:P(368), x2:P(1285), y2:P(368)}, style:{stroke:'#000', lineWidth:P(6)}, z:10});
G.push(Object.assign(gMarker('openTri', P(1213), P(364), P(22), P(20), '#000', P(3)), {z:11}));
G.push({type:'rect', shape:{x:P(1142), y:P(415), width:P(143), height:P(51.5)}, style:{fill:C.band, stroke:C.bandEdge, lineWidth:P(3)}, z:10});
[[legendTopTexts[0], 225], [legendTopTexts[1], 295.5], [legendTopTexts[2], 346], [legendTopTexts[3], 387.5], [legendTopTexts[4], 440]]
  .forEach(t => G.push({type:'text', x:P(1319), y:P(t[1]), z:10, style:{text:t[0], fill:'#000', fontFamily:SANS, fontSize:P(31), align:'left', verticalAlign:'middle'}}));
// left legend (bottom left)
const lbRows = [718.3, 774, 831, 890, 947, 1004, 1060, 1119, 1174.5];
const lbStyle = [
  ['asterisk', C.heao1, 22, 22], ['plus', C.heaoA4, 24, 24], ['openStar', C.nagoya, 28, 28], ['star', C.asca, 16, 16],
  ['openCross', C.smm, 20, 20], ['openCircle', C.rxte, 18, 18], ['tri', C.bat, 18, 18], ['openRect', C.integral, 16, 20],
  ['diamond', C.comptel, 12, 22]];
lbRows.forEach((y, i) => {
  const st = lbStyle[i];
  G.push({type:'line', shape:{x1:P(268), y1:P(y), x2:P(412), y2:P(y)}, style:{stroke:st[1], lineWidth:P(3.5)}, z:10});
  const m = gMarker(st[0], P(339), P(y), P(st[2]), P(st[3]), st[1], P(3));
  if (st[0] === 'openCircle' || st[0] === 'openRect' || st[0] === 'diamond' || st[0] === 'openCross' || st[0] === 'openStar') m.style.fill = '#ffffff';
  m.z = 11; G.push(m);
  G.push({type:'text', x:P(442), y:P(y), z:10, style:{text:legendBottomTexts[i], fill:'#000', fontFamily:SANS, fontSize:P(31), align:'left', verticalAlign:'middle'}});
});
// right panel y-axis name
G.push({type:'text', x:P(2582), y:P(773), rotation:Math.PI / 2, z:10, style:{
  text:'{i|E}{s|2}{n| \u00b7 \u03a6  [GeV  cm}{s|\u22122}{n|  s}{s|\u22121}{n|  sr}{s|\u22121}{n|]}', align:'center', verticalAlign:'middle',
  rich:{n:{fontFamily:SERIF, fontSize:P(76), lineHeight:P(100), verticalAlign:'bottom', fill:'#000'},
        i:{fontFamily:SERIF, fontStyle:'italic', fontSize:P(76), lineHeight:P(100), verticalAlign:'bottom', fill:'#000'},
        s:{fontFamily:SERIF, fontSize:P(52), lineHeight:P(52), verticalAlign:'top', fill:'#000'}}}});
// right x-axis name
G.push({type:'text', x:P(3721), y:P(1537), z:10, style:{text:'Energy [GeV]', fill:'#000', fontFamily:SERIF, fontSize:P(77), align:'center', verticalAlign:'middle'}});
// right legend
G.push({type:'rect', shape:{x:P(3030), y:P(236), width:P(992), height:P(261), r:P(16)}, style:{fill:'#ffffff', stroke:'#d4d4d4', lineWidth:P(8)}, z:10});
const rlRows = [281, 361.6, 442];
rlRows.forEach((y, i) => {
  const cx = P(3105.6), cy = P(y), hw = P(28), hh = P(27), cp = P(18), w = P(3);
  const L = (x1, y1, x2, y2) => G.push({type:'line', shape:{x1:x1, y1:y1, x2:x2, y2:y2}, style:{stroke:'#000', lineWidth:w}, z:11});
  L(cx - hw, cy, cx + hw, cy); L(cx, cy - hh, cx, cy + hh);
  L(cx - hw, cy - cp / 2, cx - hw, cy + cp / 2); L(cx + hw, cy - cp / 2, cx + hw, cy + cp / 2);
  L(cx - cp / 2, cy - hh, cx + cp / 2, cy - hh); L(cx - cp / 2, cy + hh, cx + cp / 2, cy + hh);
  let m;
  if (i === 0) m = {type:'polygon', shape:{points:[[cx, cy - P(16)], [cx - P(18), cy + P(16)], [cx + P(18), cy + P(16)]]}, style:{fill:C.gamma, stroke:'#000', lineWidth:P(3.5)}};
  else if (i === 1) m = {type:'circle', shape:{cx:cx, cy:cy, r:P(12)}, style:{fill:C.nu, stroke:'#000', lineWidth:P(3.2)}};
  else m = {type:'polygon', shape:{points:[[cx - P(18), cy - P(16)], [cx + P(18), cy - P(16)], [cx, cy + P(16)]]}, style:{fill:C.cr, stroke:'#000', lineWidth:P(3.5)}};
  m.z = 12; G.push(m);
  G.push({type:'text', x:P(3204), y:cy, z:12, style:{text:legendRightTexts[i], fill:'#000', fontFamily:SERIF, fontSize:P(56), align:'left', verticalAlign:'middle'}});
});
// caption (cut at the page edges, as in the source)
G.push({type:'text', x:P(-26), y:P(1479), z:10, style:{text:captionLines[0], fill:'#000', fontFamily:SERIF, fontSize:P(55), align:'left', verticalAlign:'middle'}});
G.push({type:'text', x:P(-26), y:P(1580), z:10, style:{text:captionLines[1], fill:'#000', fontFamily:SERIF, fontSize:P(55), align:'left', verticalAlign:'middle'}});

const axisOff = {axisLine:{show:false}, axisTick:{show:false}, axisLabel:{show:false}, splitLine:{show:false}, minorTick:{show:false}, minorSplitLine:{show:false}};
const option = {
  backgroundColor:'#ffffff',
  animation:false,
  grid:[
    Object.assign({show:true, borderColor:'#000', borderWidth:P(3.2), backgroundColor:'rgba(0,0,0,0)'}, LG),
    Object.assign({show:true, borderColor:'#000', borderWidth:P(4.5), backgroundColor:'rgba(0,0,0,0)'}, RG)
  ],
  xAxis:[
    Object.assign({type:'log', logBase:10, gridIndex:0, min:1e-3, max:1e6}, axisOff),
    Object.assign({type:'log', logBase:10, gridIndex:1, min:0.1, max:1e12}, axisOff)
  ],
  yAxis:[
    Object.assign({type:'log', logBase:10, gridIndex:0, min:1e-6, max:0.109}, axisOff),
    Object.assign({type:'log', logBase:10, gridIndex:1, min:1e-10, max:3e-6}, axisOff)
  ],
  series:series,
  graphic:{elements:G}
};
const chart = echarts.init(document.getElementById('chart'), null, {renderer:'canvas', width:4096, height:1388});
chart.setOption(option);
</script>
</body>
</html>
